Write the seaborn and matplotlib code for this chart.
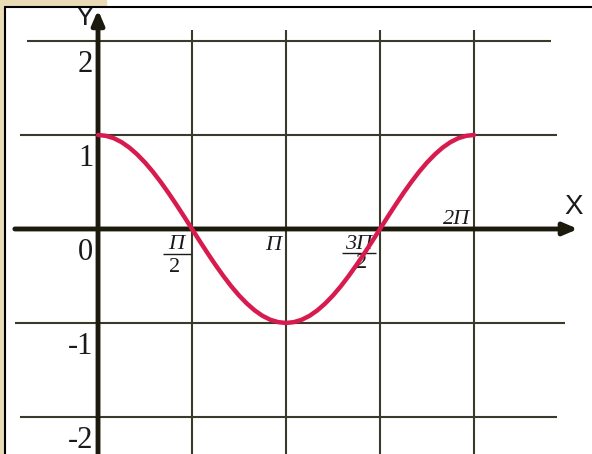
import numpy as np
import matplotlib
matplotlib.use('Agg')
import matplotlib.pyplot as plt
import seaborn as sns
from matplotlib.patches import Rectangle
from matplotlib.lines import Line2D

x_steps = list(range(49))
y_values = [1.000, 0.991, 0.966, 0.924, 0.866, 0.793, 0.707, 0.609, 0.500,
            0.383, 0.259, 0.131, 0.000, -0.131, -0.259, -0.383, -0.500,
            -0.609, -0.707, -0.793, -0.866, -0.924, -0.966, -0.991, -1.000,
            -0.991, -0.966, -0.924, -0.866, -0.793, -0.707, -0.609, -0.500,
            -0.383, -0.259, -0.131, 0.000, 0.131, 0.259, 0.383, 0.500,
            0.609, 0.707, 0.793, 0.866, 0.924, 0.966, 0.991, 1.000]

y_ticks = [2, 1, 0, -1, -2]
y_tick_labels = ['2', '1', '0', '-1', '-2']
x_tick_halfpis = [1, 2, 3, 4]
x_numerators = ['Π', 'Π', '3Π', '2Π']
x_denominators = ['2', '', '2', '']

sns.set_style('white')
plt.rcParams['font.family'] = ['Liberation Serif', 'DejaVu Serif']

df = {'x': np.array(x_steps) * np.pi / 24, 'y': y_values}

fig = plt.figure(figsize=(5.92, 4.54), dpi=100)
ax = fig.add_axes([0, 0, 1, 1])
ax.set_xlim(-1.638, 8.255)
ax.set_ylim(-2.394, 2.436)
ax.set_axis_off()

grid_col = '#3a3a2c'
axis_col = '#1c1a0c'
text_col = '#1a1a1a'
x_grid = [h * np.pi / 2 for h in x_tick_halfpis]

# grid
ax.hlines(2, -1.19, 7.57, color=grid_col, lw=1.5)
ax.hlines(1, -1.30, 7.67, color=grid_col, lw=1.5)
ax.hlines(-1, -1.39, 7.80, color=grid_col, lw=1.5)
ax.hlines(-2, -1.30, 7.67, color=grid_col, lw=1.5)
ax.vlines(x_grid, -2.45, 2.12, color=grid_col, lw=1.5)

# axes with arrows
arrow = dict(arrowstyle='-|>,head_length=0.7,head_width=0.3', lw=3.5,
             color=axis_col, shrinkA=0, shrinkB=0, mutation_scale=12)
ax.annotate('', xy=(8.02, 0), xytext=(-1.39, 0), arrowprops=arrow)
ax.annotate('', xy=(0, 2.33), xytext=(0, -2.45), arrowprops=arrow)

# curve
sns.lineplot(data=df, x='x', y='y', ax=ax, color='#d81b4e', linewidth=3.2,
             estimator=None, sort=False, zorder=5, solid_joinstyle='round')

# y tick labels
for v, lab in zip(y_ticks, y_tick_labels):
    ax.text(-0.08, v - 0.1, lab, ha='right', va='top', fontsize=22, color=text_col)

# x tick labels (italic, written as fractions where needed)
num_off = [(-0.268, -0.170), (-0.218, -0.181), (-0.350, -0.170), (-0.284, 0.106)]
den_off = [(-0.284, -0.415), None, (-0.300, -0.362), None]
bar_off = [(-0.485, -0.017, -0.266), None, (-0.634, -0.066, -0.255), None]
for i, xg in enumerate(x_grid):
    dx, dy = num_off[i]
    ax.text(xg + dx, dy, x_numerators[i], ha='center', va='center',
            fontsize=16, style='italic', color=text_col)
    if x_denominators[i]:
        ddx, ddy = den_off[i]
        ax.text(xg + ddx, ddy, x_denominators[i], ha='center', va='center',
                fontsize=16, color=text_col)
        b0, b1, by = bar_off[i]
        ax.hlines(by, xg + b0, xg + b1, color=text_col, lw=1.0)

ax.text(-0.22, 2.245, 'Y', ha='center', va='center', fontsize=20,
        family='Liberation Sans', color=text_col)
ax.text(7.94, 0.234, 'X', ha='center', va='center', fontsize=20,
        family='Liberation Sans', color=text_col)

# slide frame
fig.patches.append(Rectangle((0, 0), 4 / 592, 1, transform=fig.transFigure,
                             color='#e9dbb5', zorder=0))
fig.patches.append(Rectangle((0, 1 - 6 / 454), 106 / 592, 6 / 454,
                             transform=fig.transFigure, color='#e9dbb5', zorder=0))
fig.lines.append(Line2D([5 / 592, 1], [1 - 7 / 454, 1 - 7 / 454],
                        transform=fig.transFigure, color='black', lw=1.5))
fig.lines.append(Line2D([5 / 592, 5 / 592], [0, 1 - 7 / 454],
                        transform=fig.transFigure, color='black', lw=1.5))

fig.savefig('out.png', dpi=100)
